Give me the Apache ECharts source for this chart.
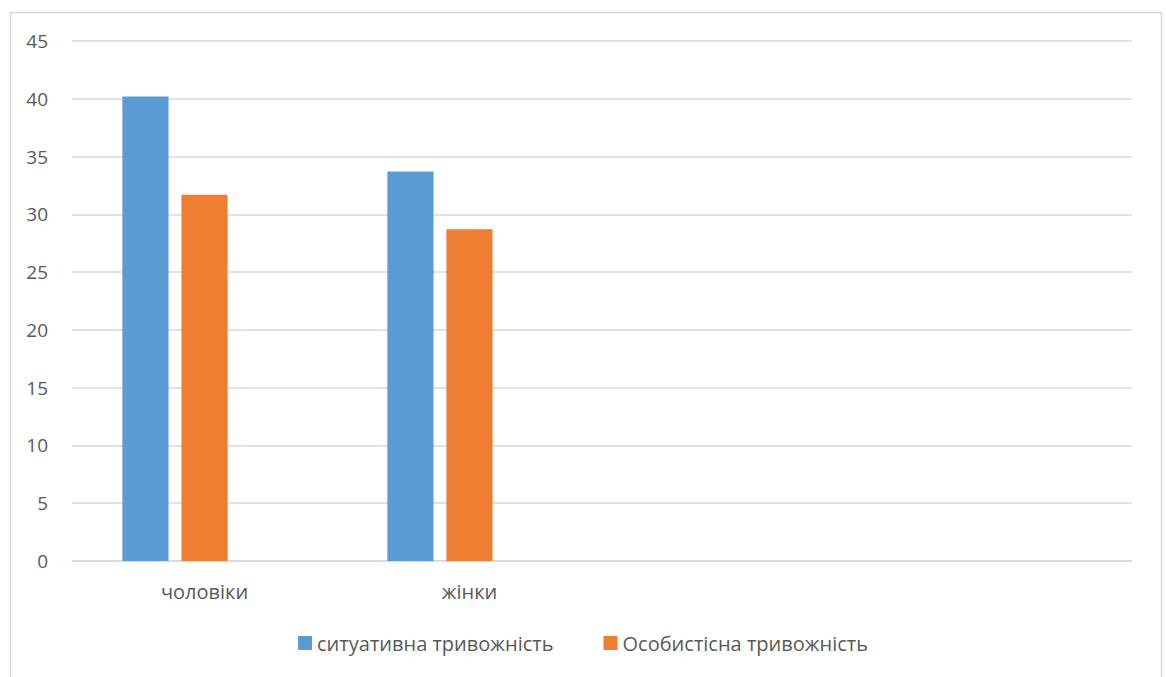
<!DOCTYPE html>
<html>
<head>
<meta charset="utf-8">
<script src="https://cdn.jsdelivr.net/npm/echarts@6/dist/echarts.min.js"></script>
<style>
  html, body { margin: 0; padding: 0; background: #fff; }
  #chart { width: 1166px; height: 677px; }
</style>
</head>
<body>
<div id="chart"></div>
<script>
var categories = ['чоловіки', 'жінки', '', ''];
var situational = [40.2, 33.7, null, null];
var personal = [31.7, 28.7, null, null];
var third = [null, null, null, null];
var yTicks = { min: 0, max: 45, interval: 5 };

var textColor = '#595959';
var gridColor = '#d9d9d9';
var font = 'Open Sans, Liberation Sans, sans-serif';

var chart = echarts.init(document.getElementById('chart'), null, { renderer: 'svg' });
chart.setOption({
  animation: false,
  graphic: [{
    type: 'rect', left: 8, top: 10, silent: true,
    shape: { width: 1151, height: 700 },
    style: { fill: 'none', stroke: gridColor, lineWidth: 1.5 }
  }],
  grid: { left: 72, right: 34, top: 41, bottom: 116 },
  legend: {
    data: ['ситуативна тривожність', 'Особистісна тривожність'],
    bottom: 19, left: 'center',
    icon: 'rect', itemWidth: 14, itemHeight: 14, itemGap: 50,
    textStyle: { color: textColor, fontSize: 20, fontFamily: font }
  },
  xAxis: {
    type: 'category', data: categories,
    axisLine: { lineStyle: { color: gridColor, width: 1.5 } },
    axisTick: { show: false },
    axisLabel: { color: textColor, fontSize: 20, fontFamily: font, margin: 20 }
  },
  yAxis: {
    type: 'value', min: yTicks.min, max: yTicks.max, interval: yTicks.interval,
    axisLine: { show: false }, axisTick: { show: false },
    axisLabel: { color: textColor, fontSize: 19, fontFamily: font, margin: 24 },
    splitLine: { lineStyle: { color: gridColor, width: 1.5 } }
  },
  series: [
    { name: 'ситуативна тривожність', type: 'bar', data: situational,
      itemStyle: { color: '#5b9bd5' }, barGap: '28%', barCategoryGap: '38%' },
    { name: 'Особистісна тривожність', type: 'bar', data: personal,
      itemStyle: { color: '#ed7d31' } },
    { name: 'ряд3', type: 'bar', data: third, itemStyle: { color: '#a5a5a5' } }
  ]
});
</script>
</body>
</html>
